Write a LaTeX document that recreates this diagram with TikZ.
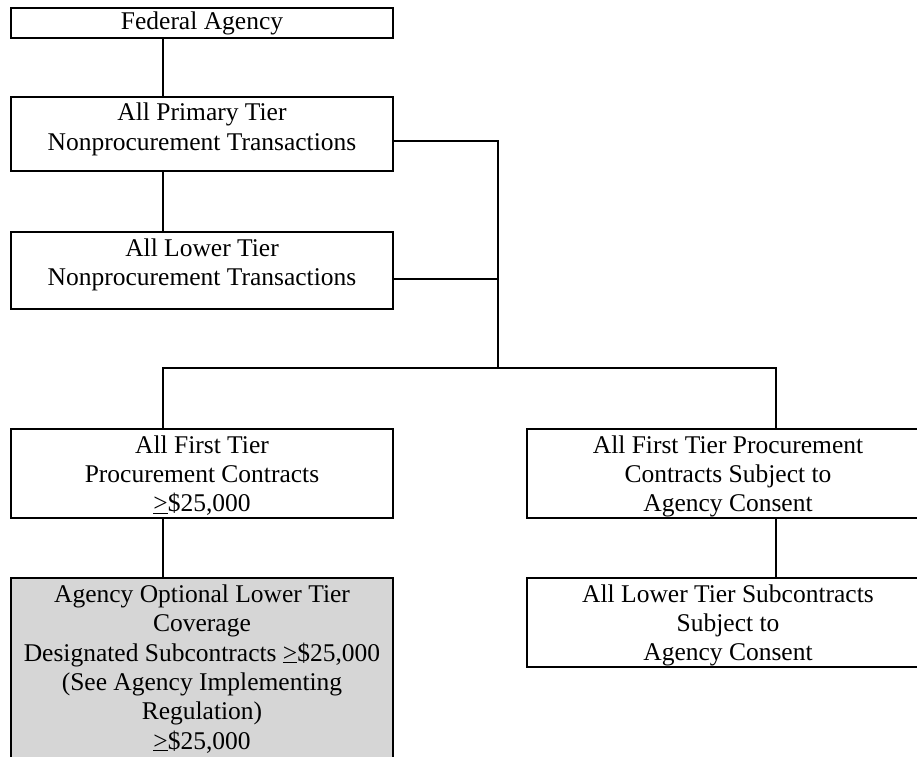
\documentclass[tikz,border=0pt]{standalone}
\usepackage{fontspec}
\setmainfont{Liberation Serif}
\usepackage{tikz}
\definecolor{optgray}{RGB}{214,214,214}
\tikzset{
  tierbox/.style={draw, line width=1.3pt, align=center, inner sep=0pt,
    minimum width=382pt, font=\fontsize{25.5pt}{29.3pt}\selectfont},
  link/.style={line width=1.3pt}
}

\begin{document}
\begin{tikzpicture}[x=1pt, y=-1pt]
  \useasboundingbox (0,0) rectangle (917,756);
  \clip (0,0) rectangle (917,756);

  % left column
  \node[tierbox, minimum height=30pt] (fed) at (202, 23) {Federal Agency};
  \node[tierbox, minimum height=74pt, text depth=15pt] (prim) at (202, 134)
    {All Primary Tier\\Nonprocurement Transactions};
  \node[tierbox, minimum height=77pt, text depth=16.5pt] (lowr) at (202, 270.5)
    {All Lower Tier\\Nonprocurement Transactions};
  \node[tierbox, minimum height=89pt, text depth=0pt] (first) at (202, 473.5)
    {All First Tier\\Procurement Contracts\\\underline{>}\$25,000};
  \node[tierbox, fill=optgray, minimum height=182pt] (opt) at (202, 669)
    {Agency Optional Lower Tier\\Coverage\\Designated Subcontracts \underline{>}\$25,000\\(See Agency Implementing\\Regulation)\\\underline{>}\$25,000};

  % right column
  \node[tierbox, minimum width=402pt, minimum height=89pt, text depth=0pt] (consent) at (728, 473.5)
    {All First Tier Procurement\\Contracts Subject to\\Agency Consent};
  \node[tierbox, minimum width=402pt, minimum height=89pt, text depth=0pt] (subcons) at (728, 622.5)
    {All Lower Tier Subcontracts\\Subject to\\Agency Consent};

  % bus points
  \coordinate (bl) at (163, 368);
  \coordinate (jn) at (498, 368);
  \coordinate (br) at (776, 368);

  \draw[link] (fed.south -| bl) -- (prim.north -| bl);
  \draw[link] (prim.south -| bl) -- (lowr.north -| bl);
  \draw[link] ([yshift=-7pt]prim.east) -| (jn);
  \draw[link] ([yshift=-8.5pt]lowr.east) -- ([yshift=-8.5pt]lowr.east -| jn);
  \draw[link] (first.north -| bl) |- (br) -- (consent.north -| br);
  \draw[link] (first.south -| bl) -- (opt.north -| bl);
  \draw[link] (consent.south -| br) -- (subcons.north -| br);

\end{tikzpicture}
\end{document}
